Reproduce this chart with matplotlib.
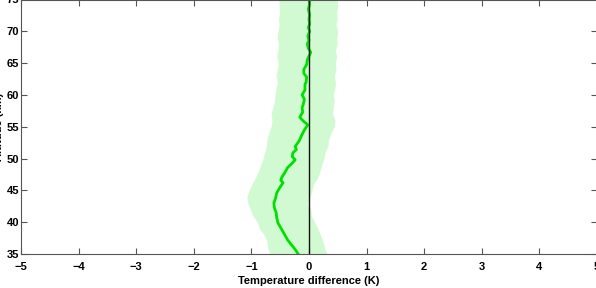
import matplotlib
matplotlib.use('Agg')
import matplotlib.pyplot as plt
import numpy as np

plt.rcParams['font.family'] = ['Liberation Sans', 'DejaVu Sans']
plt.rcParams['font.weight'] = 'bold'

# mean temperature difference profile (K) vs altitude (km)
mean_alt = [35.0, 35.6, 36.5, 37.2, 38.0, 38.8, 39.9, 40.7, 41.5, 42.2, 43.0, 43.8,
            44.6, 45.4, 46.2, 46.6, 47.1, 47.8, 48.6, 49.2, 49.8, 50.3, 50.9, 51.4,
            51.9, 52.8, 53.8, 54.5, 55.3, 55.9, 56.5, 57.3, 58.0, 58.5, 59.3, 60.0,
            60.8, 61.7, 62.0, 62.8, 63.4, 64.0, 64.8, 65.5, 66.1, 66.7, 67.3, 68.0,
            68.6, 69.2, 70.0, 70.6, 71.2, 71.9, 72.6, 73.5, 74.3, 75.0]
mean_dt = [-0.19, -0.23, -0.31, -0.37, -0.42, -0.47, -0.54, -0.56, -0.57, -0.60, -0.61, -0.58,
           -0.56, -0.51, -0.45, -0.49, -0.47, -0.42, -0.37, -0.30, -0.24, -0.29, -0.28, -0.22,
           -0.24, -0.17, -0.12, -0.08, -0.02, -0.10, -0.16, -0.11, -0.12, -0.10, -0.08, -0.12,
           -0.07, -0.07, -0.05, -0.04, -0.09, -0.09, -0.04, -0.03, 0.00, 0.03, -0.01, -0.03,
           0.00, -0.02, 0.01, -0.01, 0.01, 0.00, 0.01, -0.01, 0.01, 0.00]

# spread band
band_alt = list(range(35, 76))
band_low = [-0.68, -0.72, -0.73, -0.78, -0.86, -0.90, -0.97, -1.02, -1.06, -1.08, -1.04,
            -0.99, -0.93, -0.88, -0.84, -0.80, -0.77, -0.74, -0.73, -0.70, -0.66, -0.64,
            -0.66, -0.63, -0.60, -0.59, -0.57, -0.55, -0.57, -0.55, -0.53, -0.56, -0.54,
            -0.53, -0.55, -0.54, -0.52, -0.53, -0.51, -0.52, -0.52]
band_high = [0.31, 0.27, 0.24, 0.20, 0.15, 0.10, 0.04, 0.03, -0.03, 0.02, 0.05,
             0.08, 0.15, 0.19, 0.22, 0.26, 0.28, 0.33, 0.34, 0.38, 0.44, 0.45,
             0.41, 0.42, 0.44, 0.42, 0.45, 0.46, 0.44, 0.47, 0.46, 0.48, 0.46,
             0.49, 0.48, 0.50, 0.47, 0.49, 0.48, 0.50, 0.49]

fig = plt.figure(figsize=(5.96, 2.88), dpi=100)
ax = fig.add_axes([21 / 596, 34 / 288, 576 / 596, 254.5 / 288])

ax.fill_betweenx(band_alt, band_low, band_high, color='#d2fad2', linewidth=0)
ax.plot(mean_dt, mean_alt, color='#00e000', linewidth=2)
ax.plot([0, 0], [35, 75], color='#111111', linewidth=1)

ax.set_xlim(-5, 5)
ax.set_ylim(35, 75)
ax.set_xticks(np.arange(-5, 6, 1))
ax.set_yticks(np.arange(35, 76, 5))
ax.tick_params(direction='in', length=4, width=0.8, color='#555555',
               top=True, right=True, labelsize=8)
ax.tick_params(axis='x', pad=6)
ax.tick_params(axis='y', pad=1.5)
for sp in ax.spines.values():
    sp.set_color('#555555')
    sp.set_linewidth(0.8)

ax.set_xlabel('Temperature difference (K)', fontsize=8, fontweight='bold', labelpad=3)
ax.set_ylabel('Altitude (km)', fontsize=8, fontweight='bold')
ax.yaxis.set_label_coords(-17 / 576, 0.5)

plt.savefig('out.png', dpi=100)
